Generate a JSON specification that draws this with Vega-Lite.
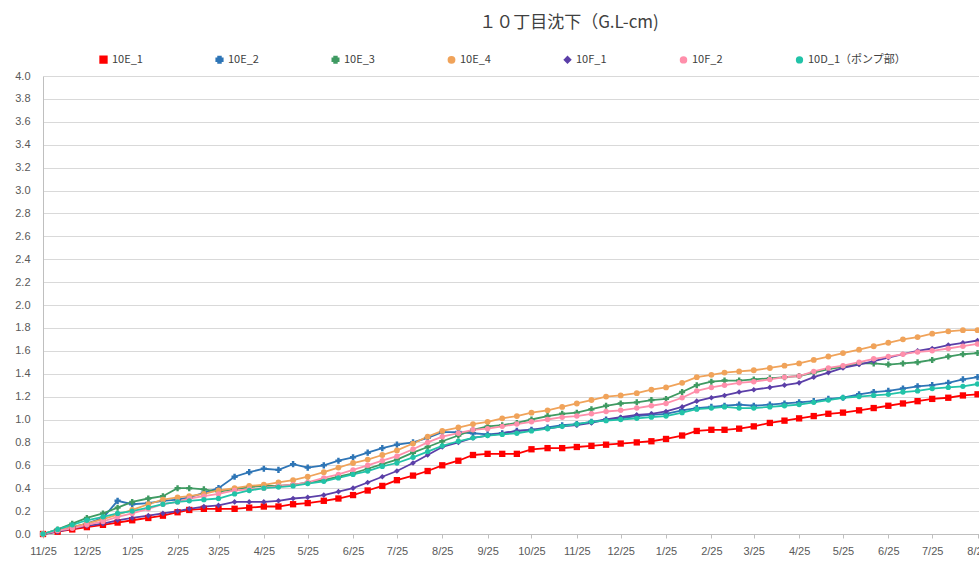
{
"$schema": "https://vega.github.io/schema/vega-lite/v6.json",
"width": 936, "height": 458,
"autosize": "none",
"padding": {"left": 43, "top": 76, "right": 0, "bottom": 30},
"background": "white",
"title": {"text": "１０丁目沈下（G.L-cm)", "anchor": "middle", "dx": 58, "offset": 22, "fontSize": 17, "fontWeight": "normal", "font": "Noto Sans CJK JP", "color": "#404040"},
"datasets": {"t": [
{"d":"2014-11-25","s":"10E_1","v":0},{"d":"2014-12-05","s":"10E_1","v":0.02},{"d":"2014-12-15","s":"10E_1","v":0.04},{"d":"2014-12-25","s":"10E_1","v":0.06},{"d":"2015-01-05","s":"10E_1","v":0.08},{"d":"2015-01-15","s":"10E_1","v":0.10},{"d":"2015-01-25","s":"10E_1","v":0.12},{"d":"2015-02-05","s":"10E_1","v":0.14},{"d":"2015-02-15","s":"10E_1","v":0.16},{"d":"2015-02-25","s":"10E_1","v":0.19},{"d":"2015-03-05","s":"10E_1","v":0.21},{"d":"2015-03-15","s":"10E_1","v":0.22},{"d":"2015-03-25","s":"10E_1","v":0.22},{"d":"2015-04-05","s":"10E_1","v":0.22},{"d":"2015-04-15","s":"10E_1","v":0.23},{"d":"2015-04-25","s":"10E_1","v":0.24},{"d":"2015-05-05","s":"10E_1","v":0.24},{"d":"2015-05-15","s":"10E_1","v":0.26},{"d":"2015-05-25","s":"10E_1","v":0.27},{"d":"2015-06-05","s":"10E_1","v":0.29},{"d":"2015-06-15","s":"10E_1","v":0.31},{"d":"2015-06-25","s":"10E_1","v":0.34},{"d":"2015-07-05","s":"10E_1","v":0.38},{"d":"2015-07-15","s":"10E_1","v":0.42},{"d":"2015-07-25","s":"10E_1","v":0.47},{"d":"2015-08-05","s":"10E_1","v":0.51},{"d":"2015-08-15","s":"10E_1","v":0.55},{"d":"2015-08-25","s":"10E_1","v":0.60},{"d":"2015-09-05","s":"10E_1","v":0.64},{"d":"2015-09-15","s":"10E_1","v":0.69},{"d":"2015-09-25","s":"10E_1","v":0.70},{"d":"2015-10-05","s":"10E_1","v":0.70},{"d":"2015-10-15","s":"10E_1","v":0.70},{"d":"2015-10-25","s":"10E_1","v":0.74},{"d":"2015-11-05","s":"10E_1","v":0.75},{"d":"2015-11-15","s":"10E_1","v":0.75},{"d":"2015-11-25","s":"10E_1","v":0.76},{"d":"2015-12-05","s":"10E_1","v":0.77},{"d":"2015-12-15","s":"10E_1","v":0.78},{"d":"2015-12-25","s":"10E_1","v":0.79},{"d":"2016-01-05","s":"10E_1","v":0.80},{"d":"2016-01-15","s":"10E_1","v":0.81},{"d":"2016-01-25","s":"10E_1","v":0.83},{"d":"2016-02-05","s":"10E_1","v":0.86},{"d":"2016-02-15","s":"10E_1","v":0.90},{"d":"2016-02-25","s":"10E_1","v":0.91},{"d":"2016-03-05","s":"10E_1","v":0.91},{"d":"2016-03-15","s":"10E_1","v":0.92},{"d":"2016-03-25","s":"10E_1","v":0.94},{"d":"2016-04-05","s":"10E_1","v":0.97},{"d":"2016-04-15","s":"10E_1","v":0.99},{"d":"2016-04-25","s":"10E_1","v":1.01},{"d":"2016-05-05","s":"10E_1","v":1.03},{"d":"2016-05-15","s":"10E_1","v":1.05},{"d":"2016-05-25","s":"10E_1","v":1.06},{"d":"2016-06-05","s":"10E_1","v":1.08},{"d":"2016-06-15","s":"10E_1","v":1.10},{"d":"2016-06-25","s":"10E_1","v":1.12},{"d":"2016-07-05","s":"10E_1","v":1.14},{"d":"2016-07-15","s":"10E_1","v":1.16},{"d":"2016-07-25","s":"10E_1","v":1.18},{"d":"2016-08-05","s":"10E_1","v":1.19},{"d":"2016-08-15","s":"10E_1","v":1.21},{"d":"2016-08-25","s":"10E_1","v":1.22},
{"d":"2014-11-25","s":"10E_2","v":0},{"d":"2014-12-05","s":"10E_2","v":0.03},{"d":"2014-12-15","s":"10E_2","v":0.06},{"d":"2014-12-25","s":"10E_2","v":0.09},{"d":"2015-01-05","s":"10E_2","v":0.14},{"d":"2015-01-15","s":"10E_2","v":0.29},{"d":"2015-01-25","s":"10E_2","v":0.26},{"d":"2015-02-05","s":"10E_2","v":0.27},{"d":"2015-02-15","s":"10E_2","v":0.29},{"d":"2015-02-25","s":"10E_2","v":0.30},{"d":"2015-03-05","s":"10E_2","v":0.32},{"d":"2015-03-15","s":"10E_2","v":0.36},{"d":"2015-03-25","s":"10E_2","v":0.40},{"d":"2015-04-05","s":"10E_2","v":0.50},{"d":"2015-04-15","s":"10E_2","v":0.54},{"d":"2015-04-25","s":"10E_2","v":0.57},{"d":"2015-05-05","s":"10E_2","v":0.56},{"d":"2015-05-15","s":"10E_2","v":0.61},{"d":"2015-05-25","s":"10E_2","v":0.58},{"d":"2015-06-05","s":"10E_2","v":0.60},{"d":"2015-06-15","s":"10E_2","v":0.64},{"d":"2015-06-25","s":"10E_2","v":0.67},{"d":"2015-07-05","s":"10E_2","v":0.71},{"d":"2015-07-15","s":"10E_2","v":0.75},{"d":"2015-07-25","s":"10E_2","v":0.78},{"d":"2015-08-05","s":"10E_2","v":0.80},{"d":"2015-08-15","s":"10E_2","v":0.84},{"d":"2015-08-25","s":"10E_2","v":0.89},{"d":"2015-09-05","s":"10E_2","v":0.89},{"d":"2015-09-15","s":"10E_2","v":0.88},{"d":"2015-09-25","s":"10E_2","v":0.87},{"d":"2015-10-05","s":"10E_2","v":0.88},{"d":"2015-10-15","s":"10E_2","v":0.90},{"d":"2015-10-25","s":"10E_2","v":0.91},{"d":"2015-11-05","s":"10E_2","v":0.93},{"d":"2015-11-15","s":"10E_2","v":0.95},{"d":"2015-11-25","s":"10E_2","v":0.96},{"d":"2015-12-05","s":"10E_2","v":0.98},{"d":"2015-12-15","s":"10E_2","v":1.00},{"d":"2015-12-25","s":"10E_2","v":1.01},{"d":"2016-01-05","s":"10E_2","v":1.03},{"d":"2016-01-15","s":"10E_2","v":1.04},{"d":"2016-01-25","s":"10E_2","v":1.05},{"d":"2016-02-05","s":"10E_2","v":1.08},{"d":"2016-02-15","s":"10E_2","v":1.10},{"d":"2016-02-25","s":"10E_2","v":1.11},{"d":"2016-03-05","s":"10E_2","v":1.12},{"d":"2016-03-15","s":"10E_2","v":1.13},{"d":"2016-03-25","s":"10E_2","v":1.12},{"d":"2016-04-05","s":"10E_2","v":1.13},{"d":"2016-04-15","s":"10E_2","v":1.14},{"d":"2016-04-25","s":"10E_2","v":1.15},{"d":"2016-05-05","s":"10E_2","v":1.16},{"d":"2016-05-15","s":"10E_2","v":1.18},{"d":"2016-05-25","s":"10E_2","v":1.19},{"d":"2016-06-05","s":"10E_2","v":1.22},{"d":"2016-06-15","s":"10E_2","v":1.24},{"d":"2016-06-25","s":"10E_2","v":1.25},{"d":"2016-07-05","s":"10E_2","v":1.27},{"d":"2016-07-15","s":"10E_2","v":1.29},{"d":"2016-07-25","s":"10E_2","v":1.30},{"d":"2016-08-05","s":"10E_2","v":1.32},{"d":"2016-08-15","s":"10E_2","v":1.35},{"d":"2016-08-25","s":"10E_2","v":1.37},
{"d":"2014-11-25","s":"10E_3","v":0},{"d":"2014-12-05","s":"10E_3","v":0.04},{"d":"2014-12-15","s":"10E_3","v":0.09},{"d":"2014-12-25","s":"10E_3","v":0.14},{"d":"2015-01-05","s":"10E_3","v":0.18},{"d":"2015-01-15","s":"10E_3","v":0.23},{"d":"2015-01-25","s":"10E_3","v":0.28},{"d":"2015-02-05","s":"10E_3","v":0.31},{"d":"2015-02-15","s":"10E_3","v":0.33},{"d":"2015-02-25","s":"10E_3","v":0.40},{"d":"2015-03-05","s":"10E_3","v":0.40},{"d":"2015-03-15","s":"10E_3","v":0.39},{"d":"2015-03-25","s":"10E_3","v":0.37},{"d":"2015-04-05","s":"10E_3","v":0.39},{"d":"2015-04-15","s":"10E_3","v":0.41},{"d":"2015-04-25","s":"10E_3","v":0.42},{"d":"2015-05-05","s":"10E_3","v":0.42},{"d":"2015-05-15","s":"10E_3","v":0.43},{"d":"2015-05-25","s":"10E_3","v":0.45},{"d":"2015-06-05","s":"10E_3","v":0.47},{"d":"2015-06-15","s":"10E_3","v":0.50},{"d":"2015-06-25","s":"10E_3","v":0.53},{"d":"2015-07-05","s":"10E_3","v":0.57},{"d":"2015-07-15","s":"10E_3","v":0.61},{"d":"2015-07-25","s":"10E_3","v":0.65},{"d":"2015-08-05","s":"10E_3","v":0.71},{"d":"2015-08-15","s":"10E_3","v":0.76},{"d":"2015-08-25","s":"10E_3","v":0.81},{"d":"2015-09-05","s":"10E_3","v":0.86},{"d":"2015-09-15","s":"10E_3","v":0.91},{"d":"2015-09-25","s":"10E_3","v":0.94},{"d":"2015-10-05","s":"10E_3","v":0.95},{"d":"2015-10-15","s":"10E_3","v":0.97},{"d":"2015-10-25","s":"10E_3","v":1.00},{"d":"2015-11-05","s":"10E_3","v":1.03},{"d":"2015-11-15","s":"10E_3","v":1.05},{"d":"2015-11-25","s":"10E_3","v":1.06},{"d":"2015-12-05","s":"10E_3","v":1.09},{"d":"2015-12-15","s":"10E_3","v":1.12},{"d":"2015-12-25","s":"10E_3","v":1.14},{"d":"2016-01-05","s":"10E_3","v":1.15},{"d":"2016-01-15","s":"10E_3","v":1.17},{"d":"2016-01-25","s":"10E_3","v":1.18},{"d":"2016-02-05","s":"10E_3","v":1.24},{"d":"2016-02-15","s":"10E_3","v":1.30},{"d":"2016-02-25","s":"10E_3","v":1.33},{"d":"2016-03-05","s":"10E_3","v":1.34},{"d":"2016-03-15","s":"10E_3","v":1.34},{"d":"2016-03-25","s":"10E_3","v":1.35},{"d":"2016-04-05","s":"10E_3","v":1.36},{"d":"2016-04-15","s":"10E_3","v":1.37},{"d":"2016-04-25","s":"10E_3","v":1.38},{"d":"2016-05-05","s":"10E_3","v":1.41},{"d":"2016-05-15","s":"10E_3","v":1.44},{"d":"2016-05-25","s":"10E_3","v":1.46},{"d":"2016-06-05","s":"10E_3","v":1.49},{"d":"2016-06-15","s":"10E_3","v":1.49},{"d":"2016-06-25","s":"10E_3","v":1.48},{"d":"2016-07-05","s":"10E_3","v":1.49},{"d":"2016-07-15","s":"10E_3","v":1.50},{"d":"2016-07-25","s":"10E_3","v":1.52},{"d":"2016-08-05","s":"10E_3","v":1.55},{"d":"2016-08-15","s":"10E_3","v":1.57},{"d":"2016-08-25","s":"10E_3","v":1.58},
{"d":"2014-11-25","s":"10E_4","v":0},{"d":"2014-12-05","s":"10E_4","v":0.03},{"d":"2014-12-15","s":"10E_4","v":0.06},{"d":"2014-12-25","s":"10E_4","v":0.09},{"d":"2015-01-05","s":"10E_4","v":0.13},{"d":"2015-01-15","s":"10E_4","v":0.17},{"d":"2015-01-25","s":"10E_4","v":0.21},{"d":"2015-02-05","s":"10E_4","v":0.26},{"d":"2015-02-15","s":"10E_4","v":0.30},{"d":"2015-02-25","s":"10E_4","v":0.32},{"d":"2015-03-05","s":"10E_4","v":0.33},{"d":"2015-03-15","s":"10E_4","v":0.35},{"d":"2015-03-25","s":"10E_4","v":0.38},{"d":"2015-04-05","s":"10E_4","v":0.40},{"d":"2015-04-15","s":"10E_4","v":0.42},{"d":"2015-04-25","s":"10E_4","v":0.43},{"d":"2015-05-05","s":"10E_4","v":0.45},{"d":"2015-05-15","s":"10E_4","v":0.47},{"d":"2015-05-25","s":"10E_4","v":0.50},{"d":"2015-06-05","s":"10E_4","v":0.54},{"d":"2015-06-15","s":"10E_4","v":0.58},{"d":"2015-06-25","s":"10E_4","v":0.62},{"d":"2015-07-05","s":"10E_4","v":0.65},{"d":"2015-07-15","s":"10E_4","v":0.69},{"d":"2015-07-25","s":"10E_4","v":0.73},{"d":"2015-08-05","s":"10E_4","v":0.79},{"d":"2015-08-15","s":"10E_4","v":0.85},{"d":"2015-08-25","s":"10E_4","v":0.90},{"d":"2015-09-05","s":"10E_4","v":0.93},{"d":"2015-09-15","s":"10E_4","v":0.96},{"d":"2015-09-25","s":"10E_4","v":0.98},{"d":"2015-10-05","s":"10E_4","v":1.01},{"d":"2015-10-15","s":"10E_4","v":1.03},{"d":"2015-10-25","s":"10E_4","v":1.06},{"d":"2015-11-05","s":"10E_4","v":1.08},{"d":"2015-11-15","s":"10E_4","v":1.11},{"d":"2015-11-25","s":"10E_4","v":1.14},{"d":"2015-12-05","s":"10E_4","v":1.17},{"d":"2015-12-15","s":"10E_4","v":1.20},{"d":"2015-12-25","s":"10E_4","v":1.21},{"d":"2016-01-05","s":"10E_4","v":1.23},{"d":"2016-01-15","s":"10E_4","v":1.26},{"d":"2016-01-25","s":"10E_4","v":1.28},{"d":"2016-02-05","s":"10E_4","v":1.32},{"d":"2016-02-15","s":"10E_4","v":1.37},{"d":"2016-02-25","s":"10E_4","v":1.39},{"d":"2016-03-05","s":"10E_4","v":1.41},{"d":"2016-03-15","s":"10E_4","v":1.42},{"d":"2016-03-25","s":"10E_4","v":1.43},{"d":"2016-04-05","s":"10E_4","v":1.45},{"d":"2016-04-15","s":"10E_4","v":1.47},{"d":"2016-04-25","s":"10E_4","v":1.49},{"d":"2016-05-05","s":"10E_4","v":1.52},{"d":"2016-05-15","s":"10E_4","v":1.55},{"d":"2016-05-25","s":"10E_4","v":1.58},{"d":"2016-06-05","s":"10E_4","v":1.61},{"d":"2016-06-15","s":"10E_4","v":1.64},{"d":"2016-06-25","s":"10E_4","v":1.67},{"d":"2016-07-05","s":"10E_4","v":1.70},{"d":"2016-07-15","s":"10E_4","v":1.72},{"d":"2016-07-25","s":"10E_4","v":1.75},{"d":"2016-08-05","s":"10E_4","v":1.77},{"d":"2016-08-15","s":"10E_4","v":1.78},{"d":"2016-08-25","s":"10E_4","v":1.78},
{"d":"2014-11-25","s":"10F_1","v":0},{"d":"2014-12-05","s":"10F_1","v":0.02},{"d":"2014-12-15","s":"10F_1","v":0.05},{"d":"2014-12-25","s":"10F_1","v":0.07},{"d":"2015-01-05","s":"10F_1","v":0.09},{"d":"2015-01-15","s":"10F_1","v":0.12},{"d":"2015-01-25","s":"10F_1","v":0.14},{"d":"2015-02-05","s":"10F_1","v":0.16},{"d":"2015-02-15","s":"10F_1","v":0.18},{"d":"2015-02-25","s":"10F_1","v":0.20},{"d":"2015-03-05","s":"10F_1","v":0.22},{"d":"2015-03-15","s":"10F_1","v":0.24},{"d":"2015-03-25","s":"10F_1","v":0.25},{"d":"2015-04-05","s":"10F_1","v":0.28},{"d":"2015-04-15","s":"10F_1","v":0.28},{"d":"2015-04-25","s":"10F_1","v":0.28},{"d":"2015-05-05","s":"10F_1","v":0.29},{"d":"2015-05-15","s":"10F_1","v":0.31},{"d":"2015-05-25","s":"10F_1","v":0.32},{"d":"2015-06-05","s":"10F_1","v":0.34},{"d":"2015-06-15","s":"10F_1","v":0.37},{"d":"2015-06-25","s":"10F_1","v":0.40},{"d":"2015-07-05","s":"10F_1","v":0.45},{"d":"2015-07-15","s":"10F_1","v":0.50},{"d":"2015-07-25","s":"10F_1","v":0.55},{"d":"2015-08-05","s":"10F_1","v":0.62},{"d":"2015-08-15","s":"10F_1","v":0.69},{"d":"2015-08-25","s":"10F_1","v":0.76},{"d":"2015-09-05","s":"10F_1","v":0.80},{"d":"2015-09-15","s":"10F_1","v":0.84},{"d":"2015-09-25","s":"10F_1","v":0.86},{"d":"2015-10-05","s":"10F_1","v":0.88},{"d":"2015-10-15","s":"10F_1","v":0.90},{"d":"2015-10-25","s":"10F_1","v":0.91},{"d":"2015-11-05","s":"10F_1","v":0.92},{"d":"2015-11-15","s":"10F_1","v":0.94},{"d":"2015-11-25","s":"10F_1","v":0.95},{"d":"2015-12-05","s":"10F_1","v":0.97},{"d":"2015-12-15","s":"10F_1","v":1.00},{"d":"2015-12-25","s":"10F_1","v":1.02},{"d":"2016-01-05","s":"10F_1","v":1.04},{"d":"2016-01-15","s":"10F_1","v":1.05},{"d":"2016-01-25","s":"10F_1","v":1.07},{"d":"2016-02-05","s":"10F_1","v":1.11},{"d":"2016-02-15","s":"10F_1","v":1.16},{"d":"2016-02-25","s":"10F_1","v":1.19},{"d":"2016-03-05","s":"10F_1","v":1.21},{"d":"2016-03-15","s":"10F_1","v":1.24},{"d":"2016-03-25","s":"10F_1","v":1.26},{"d":"2016-04-05","s":"10F_1","v":1.28},{"d":"2016-04-15","s":"10F_1","v":1.30},{"d":"2016-04-25","s":"10F_1","v":1.32},{"d":"2016-05-05","s":"10F_1","v":1.37},{"d":"2016-05-15","s":"10F_1","v":1.41},{"d":"2016-05-25","s":"10F_1","v":1.45},{"d":"2016-06-05","s":"10F_1","v":1.48},{"d":"2016-06-15","s":"10F_1","v":1.51},{"d":"2016-06-25","s":"10F_1","v":1.54},{"d":"2016-07-05","s":"10F_1","v":1.57},{"d":"2016-07-15","s":"10F_1","v":1.60},{"d":"2016-07-25","s":"10F_1","v":1.62},{"d":"2016-08-05","s":"10F_1","v":1.65},{"d":"2016-08-15","s":"10F_1","v":1.67},{"d":"2016-08-25","s":"10F_1","v":1.69},
{"d":"2014-11-25","s":"10F_2","v":0},{"d":"2014-12-05","s":"10F_2","v":0.03},{"d":"2014-12-15","s":"10F_2","v":0.05},{"d":"2014-12-25","s":"10F_2","v":0.08},{"d":"2015-01-05","s":"10F_2","v":0.11},{"d":"2015-01-15","s":"10F_2","v":0.15},{"d":"2015-01-25","s":"10F_2","v":0.18},{"d":"2015-02-05","s":"10F_2","v":0.22},{"d":"2015-02-15","s":"10F_2","v":0.26},{"d":"2015-02-25","s":"10F_2","v":0.28},{"d":"2015-03-05","s":"10F_2","v":0.31},{"d":"2015-03-15","s":"10F_2","v":0.33},{"d":"2015-03-25","s":"10F_2","v":0.35},{"d":"2015-04-05","s":"10F_2","v":0.38},{"d":"2015-04-15","s":"10F_2","v":0.39},{"d":"2015-04-25","s":"10F_2","v":0.40},{"d":"2015-05-05","s":"10F_2","v":0.42},{"d":"2015-05-15","s":"10F_2","v":0.43},{"d":"2015-05-25","s":"10F_2","v":0.45},{"d":"2015-06-05","s":"10F_2","v":0.49},{"d":"2015-06-15","s":"10F_2","v":0.52},{"d":"2015-06-25","s":"10F_2","v":0.56},{"d":"2015-07-05","s":"10F_2","v":0.60},{"d":"2015-07-15","s":"10F_2","v":0.64},{"d":"2015-07-25","s":"10F_2","v":0.68},{"d":"2015-08-05","s":"10F_2","v":0.74},{"d":"2015-08-15","s":"10F_2","v":0.80},{"d":"2015-08-25","s":"10F_2","v":0.85},{"d":"2015-09-05","s":"10F_2","v":0.88},{"d":"2015-09-15","s":"10F_2","v":0.91},{"d":"2015-09-25","s":"10F_2","v":0.92},{"d":"2015-10-05","s":"10F_2","v":0.94},{"d":"2015-10-15","s":"10F_2","v":0.96},{"d":"2015-10-25","s":"10F_2","v":0.98},{"d":"2015-11-05","s":"10F_2","v":1.00},{"d":"2015-11-15","s":"10F_2","v":1.02},{"d":"2015-11-25","s":"10F_2","v":1.03},{"d":"2015-12-05","s":"10F_2","v":1.05},{"d":"2015-12-15","s":"10F_2","v":1.07},{"d":"2015-12-25","s":"10F_2","v":1.08},{"d":"2016-01-05","s":"10F_2","v":1.10},{"d":"2016-01-15","s":"10F_2","v":1.12},{"d":"2016-01-25","s":"10F_2","v":1.14},{"d":"2016-02-05","s":"10F_2","v":1.19},{"d":"2016-02-15","s":"10F_2","v":1.25},{"d":"2016-02-25","s":"10F_2","v":1.28},{"d":"2016-03-05","s":"10F_2","v":1.30},{"d":"2016-03-15","s":"10F_2","v":1.32},{"d":"2016-03-25","s":"10F_2","v":1.33},{"d":"2016-04-05","s":"10F_2","v":1.35},{"d":"2016-04-15","s":"10F_2","v":1.37},{"d":"2016-04-25","s":"10F_2","v":1.38},{"d":"2016-05-05","s":"10F_2","v":1.42},{"d":"2016-05-15","s":"10F_2","v":1.45},{"d":"2016-05-25","s":"10F_2","v":1.47},{"d":"2016-06-05","s":"10F_2","v":1.50},{"d":"2016-06-15","s":"10F_2","v":1.53},{"d":"2016-06-25","s":"10F_2","v":1.55},{"d":"2016-07-05","s":"10F_2","v":1.57},{"d":"2016-07-15","s":"10F_2","v":1.59},{"d":"2016-07-25","s":"10F_2","v":1.60},{"d":"2016-08-05","s":"10F_2","v":1.62},{"d":"2016-08-15","s":"10F_2","v":1.64},{"d":"2016-08-25","s":"10F_2","v":1.66},
{"d":"2014-11-25","s":"10D_1（ポンプ部）","v":0},{"d":"2014-12-05","s":"10D_1（ポンプ部）","v":0.04},{"d":"2014-12-15","s":"10D_1（ポンプ部）","v":0.08},{"d":"2014-12-25","s":"10D_1（ポンプ部）","v":0.12},{"d":"2015-01-05","s":"10D_1（ポンプ部）","v":0.15},{"d":"2015-01-15","s":"10D_1（ポンプ部）","v":0.18},{"d":"2015-01-25","s":"10D_1（ポンプ部）","v":0.20},{"d":"2015-02-05","s":"10D_1（ポンプ部）","v":0.23},{"d":"2015-02-15","s":"10D_1（ポンプ部）","v":0.26},{"d":"2015-02-25","s":"10D_1（ポンプ部）","v":0.28},{"d":"2015-03-05","s":"10D_1（ポンプ部）","v":0.29},{"d":"2015-03-15","s":"10D_1（ポンプ部）","v":0.30},{"d":"2015-03-25","s":"10D_1（ポンプ部）","v":0.31},{"d":"2015-04-05","s":"10D_1（ポンプ部）","v":0.35},{"d":"2015-04-15","s":"10D_1（ポンプ部）","v":0.38},{"d":"2015-04-25","s":"10D_1（ポンプ部）","v":0.40},{"d":"2015-05-05","s":"10D_1（ポンプ部）","v":0.41},{"d":"2015-05-15","s":"10D_1（ポンプ部）","v":0.42},{"d":"2015-05-25","s":"10D_1（ポンプ部）","v":0.44},{"d":"2015-06-05","s":"10D_1（ポンプ部）","v":0.46},{"d":"2015-06-15","s":"10D_1（ポンプ部）","v":0.49},{"d":"2015-06-25","s":"10D_1（ポンプ部）","v":0.52},{"d":"2015-07-05","s":"10D_1（ポンプ部）","v":0.55},{"d":"2015-07-15","s":"10D_1（ポンプ部）","v":0.59},{"d":"2015-07-25","s":"10D_1（ポンプ部）","v":0.62},{"d":"2015-08-05","s":"10D_1（ポンプ部）","v":0.67},{"d":"2015-08-15","s":"10D_1（ポンプ部）","v":0.72},{"d":"2015-08-25","s":"10D_1（ポンプ部）","v":0.77},{"d":"2015-09-05","s":"10D_1（ポンプ部）","v":0.81},{"d":"2015-09-15","s":"10D_1（ポンプ部）","v":0.84},{"d":"2015-09-25","s":"10D_1（ポンプ部）","v":0.86},{"d":"2015-10-05","s":"10D_1（ポンプ部）","v":0.87},{"d":"2015-10-15","s":"10D_1（ポンプ部）","v":0.88},{"d":"2015-10-25","s":"10D_1（ポンプ部）","v":0.90},{"d":"2015-11-05","s":"10D_1（ポンプ部）","v":0.92},{"d":"2015-11-15","s":"10D_1（ポンプ部）","v":0.94},{"d":"2015-11-25","s":"10D_1（ポンプ部）","v":0.96},{"d":"2015-12-05","s":"10D_1（ポンプ部）","v":0.98},{"d":"2015-12-15","s":"10D_1（ポンプ部）","v":0.99},{"d":"2015-12-25","s":"10D_1（ポンプ部）","v":1.00},{"d":"2016-01-05","s":"10D_1（ポンプ部）","v":1.01},{"d":"2016-01-15","s":"10D_1（ポンプ部）","v":1.02},{"d":"2016-01-25","s":"10D_1（ポンプ部）","v":1.03},{"d":"2016-02-05","s":"10D_1（ポンプ部）","v":1.06},{"d":"2016-02-15","s":"10D_1（ポンプ部）","v":1.09},{"d":"2016-02-25","s":"10D_1（ポンプ部）","v":1.10},{"d":"2016-03-05","s":"10D_1（ポンプ部）","v":1.11},{"d":"2016-03-15","s":"10D_1（ポンプ部）","v":1.10},{"d":"2016-03-25","s":"10D_1（ポンプ部）","v":1.10},{"d":"2016-04-05","s":"10D_1（ポンプ部）","v":1.11},{"d":"2016-04-15","s":"10D_1（ポンプ部）","v":1.12},{"d":"2016-04-25","s":"10D_1（ポンプ部）","v":1.13},{"d":"2016-05-05","s":"10D_1（ポンプ部）","v":1.15},{"d":"2016-05-15","s":"10D_1（ポンプ部）","v":1.17},{"d":"2016-05-25","s":"10D_1（ポンプ部）","v":1.19},{"d":"2016-06-05","s":"10D_1（ポンプ部）","v":1.20},{"d":"2016-06-15","s":"10D_1（ポンプ部）","v":1.21},{"d":"2016-06-25","s":"10D_1（ポンプ部）","v":1.22},{"d":"2016-07-05","s":"10D_1（ポンプ部）","v":1.24},{"d":"2016-07-15","s":"10D_1（ポンプ部）","v":1.25},{"d":"2016-07-25","s":"10D_1（ポンプ部）","v":1.27},{"d":"2016-08-05","s":"10D_1（ポンプ部）","v":1.28},{"d":"2016-08-15","s":"10D_1（ポンプ部）","v":1.29},{"d":"2016-08-25","s":"10D_1（ポンプ部）","v":1.31}
]},
"data": {"name": "t", "format": {"parse": {"d": "date:'%Y-%m-%d'"}}},
"config": {"font": "Noto Sans CJK JP", "view": {"stroke": null}},
"encoding": {
  "x": {"field": "d", "type": "temporal",
    "scale": {"domain": [{"year": 2014, "month": 11, "date": 25}, {"year": 2016, "month": 8, "date": 26}]},
    "axis": {"title": null, "format": "%-m/%-d", "grid": false, "labelFlush": false, "labelOverlap": false,
      "values": [{"year":2014,"month":11,"date":25},{"year":2014,"month":12,"date":25},{"year":2015,"month":1,"date":25},{"year":2015,"month":2,"date":25},{"year":2015,"month":3,"date":25},{"year":2015,"month":4,"date":25},{"year":2015,"month":5,"date":25},{"year":2015,"month":6,"date":25},{"year":2015,"month":7,"date":25},{"year":2015,"month":8,"date":25},{"year":2015,"month":9,"date":25},{"year":2015,"month":10,"date":25},{"year":2015,"month":11,"date":25},{"year":2015,"month":12,"date":25},{"year":2016,"month":1,"date":25},{"year":2016,"month":2,"date":25},{"year":2016,"month":3,"date":25},{"year":2016,"month":4,"date":25},{"year":2016,"month":5,"date":25},{"year":2016,"month":6,"date":25},{"year":2016,"month":7,"date":25},{"year":2016,"month":8,"date":25}],
      "labelFontSize": 11, "labelColor": "#595959", "labelFont": "Liberation Sans", "labelPadding": 7,
      "domainColor": "#bfbfbf", "tickColor": "#bfbfbf", "tickSize": 4}},
  "y": {"field": "v", "type": "quantitative", "scale": {"domain": [0, 4], "nice": false},
    "axis": {"title": null, "values": [0,0.2,0.4,0.6,0.8,1,1.2,1.4,1.6,1.8,2,2.2,2.4,2.6,2.8,3,3.2,3.4,3.6,3.8,4], "format": ".1f",
      "ticks": false, "labelPadding": 13, "labelFontSize": 11, "labelColor": "#595959", "labelFont": "Liberation Sans",
      "gridColor": "#d9d9d9", "gridWidth": 1, "domainColor": "#bfbfbf"}},
  "color": {"field": "s", "type": "nominal",
    "scale": {"domain": ["10E_1", "10E_2", "10E_3", "10E_4", "10F_1", "10F_2", "10D_1（ポンプ部）"],
      "range": ["#ff0000", "#2e75b6", "#3f9a62", "#f0a35a", "#5b3fa8", "#ff8fab", "#22c3a8"]},
    "legend": {"title": null, "orient": "none", "legendX": 55, "legendY": -22, "direction": "horizontal", "columns": 7,
      "columnPadding": 69, "symbolType": "stroke", "symbolSize": 400, "symbolStrokeWidth": 2, "labelFontSize": 11,
      "labelColor": "#404040", "labelFont": "Noto Sans CJK JP", "labelOffset": 3}}
},
"layer": [
  {"mark": {"type": "line", "strokeWidth": 1.8}},
  {"mark": {"type": "point", "filled": true, "opacity": 1},
   "encoding": {
     "shape": {"field": "s", "type": "nominal", "legend": null,
       "scale": {"domain": ["10E_1", "10E_2", "10E_3", "10E_4", "10F_1", "10F_2", "10D_1（ポンプ部）"],
         "range": ["square", "cross", "cross", "circle", "diamond", "circle", "circle"]}},
     "size": {"field": "s", "type": "nominal", "legend": null,
       "scale": {"domain": ["10E_1", "10E_2", "10E_3", "10E_4", "10F_1", "10F_2", "10D_1（ポンプ部）"],
         "range": [40, 28, 18, 25, 45, 25, 12]}}
   }}
]
}
